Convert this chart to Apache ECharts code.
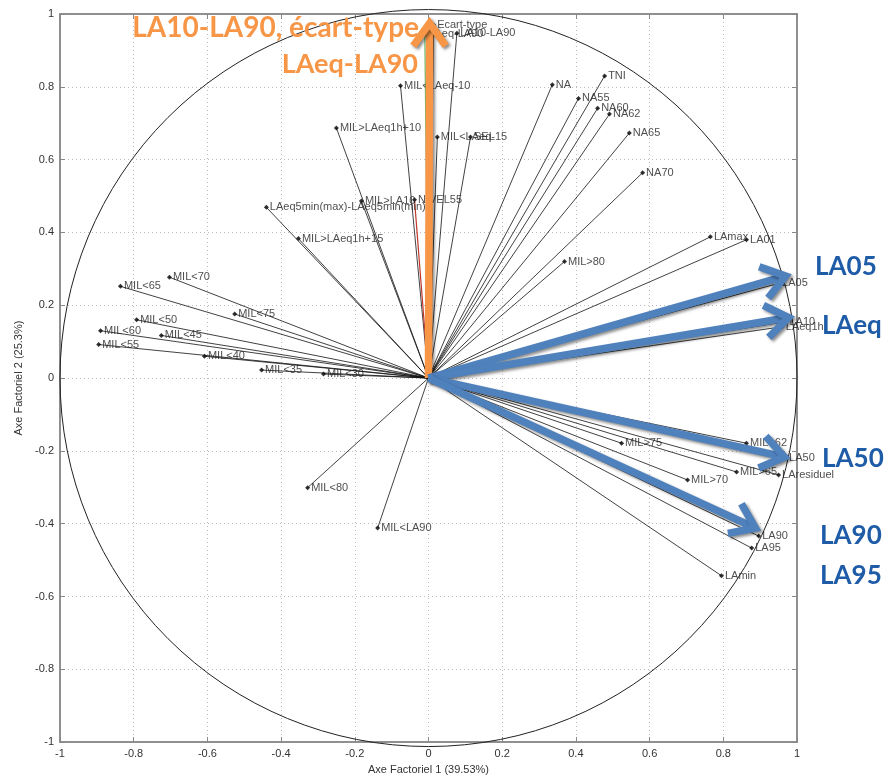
<!DOCTYPE html>
<html><head><meta charset="utf-8">
<script src="https://cdn.jsdelivr.net/npm/echarts@6/dist/echarts.min.js"></script>
<style>html,body{margin:0;padding:0;background:#fff}#c{width:889px;height:780px}</style>
</head><body><div id="c"></div>
<script>
// Variables (correlation circle coordinates)
const varNames = ['Ecart-type','LAeq-LA90','LA10-LA90','MIL<LAeq-10','MIL>LAeq1h+10','MIL<LAeq-15','SEL',
 'LAeq5min(max)-LAeq5min(min)','MIL>LA10','NIVEL55','MIL>LAeq1h+15','NA','TNI','NA55','NA60','NA62','NA65','NA70',
 'LAmax','LA01','LA05','LA10','LAeq1h','MIL>80','MIL>75','MIL>62','LA50','MIL>65','LAresiduel','MIL>70',
 'LA90','LA95','LAmin','MIL<70','MIL<65','MIL<75','MIL<50','MIL<60','MIL<45','MIL<55','MIL<40','MIL<35','MIL<30',
 'MIL<80','MIL<LA90'];
const varX = [0.014,-0.01,0.077,-0.076,-0.25,0.024,0.114,
 -0.44,-0.182,-0.038,-0.353,0.336,0.478,0.407,0.459,0.491,0.545,0.581,
 0.765,0.863,0.95,0.97,0.96,0.369,0.524,0.863,0.969,0.836,0.95,0.703,
 0.896,0.877,0.795,-0.703,-0.836,-0.526,-0.792,-0.89,-0.725,-0.895,-0.608,-0.453,-0.285,
 -0.328,-0.138];
const varY = [0.97,0.945,0.947,0.803,0.687,0.662,0.662,
 0.469,0.486,0.49,0.383,0.806,0.83,0.768,0.741,0.725,0.673,0.564,
 0.388,0.38,0.26,0.155,0.141,0.32,-0.179,-0.179,-0.22,-0.258,-0.266,-0.28,
 -0.434,-0.467,-0.543,0.277,0.252,0.176,0.16,0.13,0.117,0.092,0.06,0.022,0.011,
 -0.301,-0.412];
const lineColors = {'LAeq-LA90':'#66bb6a', 'NIVEL55':'#c0392b'};
// Highlight arrows
const blueArrowX = [0.969,0.977,0.966,0.887];
const blueArrowY = [0.28,0.166,-0.217,-0.412];
const orangeArrowX = [0.003];
const orangeArrowY = [0.975];

const chart = echarts.init(document.getElementById('c'), null, {renderer:'canvas'});
const tickFont = {fontFamily:'"Liberation Sans Narrow","Arial Narrow","Liberation Sans",sans-serif', fontSize:11, color:'#333'};
function fmt(v){ if (v===0) return '0'; if (v===1) return '1'; if (v===-1) return '-1'; return String(v); }
function axisCommon(){
  return {type:'value', min:-1, max:1, interval:0.2,
    axisLine:{show:true, onZero:false, lineStyle:{color:'#888', width:1.5}},
    axisTick:{show:true, inside:true, length:5, lineStyle:{color:'#888'}},
    splitLine:{show:true, lineStyle:{color:'#bbb', type:[1,3], width:1}},
    axisLabel:Object.assign({formatter:fmt, margin:6}, tickFont)};
}
const xa = axisCommon(); xa.position='bottom'; xa.name='Axe Factoriel 1 (39.53%)'; xa.nameLocation='middle'; xa.nameGap=20;
xa.nameTextStyle = Object.assign({}, tickFont, {fontSize:11});
const xTop = axisCommon(); xTop.position='top'; xTop.axisLabel={show:false}; xTop.splitLine={show:false};
const ya = axisCommon(); ya.position='left'; ya.name='Axe Factoriel 2 (25.3%)'; ya.nameLocation='middle'; ya.nameGap=34;
ya.nameTextStyle = Object.assign({}, tickFont, {fontSize:11});
const yRight = axisCommon(); yRight.position='right'; yRight.axisLabel={show:false}; yRight.splitLine={show:false};

function arrowSeries(xs, ys, color){
  return {type:'custom', z:10, clip:false, silent:true,
    data: xs.map((x,i)=>[x, ys[i]]),
    renderItem: function(params, api){
      const o = api.coord([0,0]);
      const p = api.coord([api.value(0), api.value(1)]);
      const dx = p[0]-o[0], dy = p[1]-o[1];
      const L = Math.sqrt(dx*dx+dy*dy);
      const ux = dx/L, uy = dy/L;
      const hl = 28, ang = 0.62;
      const c = Math.cos(ang), s = Math.sin(ang);
      const b1 = [p[0] - hl*(ux*c - uy*s), p[1] - hl*(uy*c + ux*s)];
      const b2 = [p[0] - hl*(ux*c + uy*s), p[1] - hl*(uy*c - ux*s)];
      const st = {stroke:color, lineWidth:7.5, fill:null, lineCap:'butt', lineJoin:'miter',
        shadowBlur:3, shadowColor:'rgba(0,0,0,0.45)', shadowOffsetX:2, shadowOffsetY:2};
      return {type:'group', children:[
        {type:'line', shape:{x1:o[0], y1:o[1], x2:p[0]-ux*4, y2:p[1]-uy*4}, style:st},
        {type:'polyline', shape:{points:[b1, p, b2]}, style:st}
      ]};
    }};
}

const option = {
  animation:false,
  backgroundColor:'#fff',
  grid:{left:60, top:14, width:737, height:737, show:true, borderColor:'#888', borderWidth:1.5},
  xAxis:[xa, xTop],
  yAxis:[ya, yRight],
  series:[
    {type:'custom', silent:true, data:[[0,0]], z:2,
      renderItem:function(params, api){
        const c = api.coord([0,0]); const r = api.size([1,1]);
        return {type:'circle', shape:{cx:c[0], cy:c[1], r:r[0]}, style:{stroke:'#222', fill:null, lineWidth:1}};
      }},
    {type:'lines', coordinateSystem:'cartesian2d', silent:true, z:3,
      data: varX.map((x,i)=>({coords:[[0,0],[x, varY[i]]],
        lineStyle:{color: lineColors[varNames[i]] || '#111', width: lineColors[varNames[i]] ? 1.2 : 0.8}})),
      lineStyle:{color:'#111', width:0.8, opacity:1}},
    {type:'scatter', z:4, silent:true, symbol:'diamond', symbolSize:5,
      itemStyle:{color:'#000'},
      data: varX.map((x,i)=>({name:varNames[i], value:[x, varY[i]]})),
      label:{show:true, position:'right', distance:1, formatter:'{b}',
        fontFamily:'"Liberation Sans Narrow","Arial Narrow","Liberation Sans",sans-serif', fontSize:11, color:'#222'}},
    arrowSeries(orangeArrowX, orangeArrowY, '#F79646'),
    arrowSeries(blueArrowX, blueArrowY, '#4F81BD')
  ],
  graphic:[
    {type:'text', z:100, left:815, top:254, style:{text:'LA05', font:'bold 26px Lato, "Open Sans", sans-serif', fill:'#1F5CA8'}},
    {type:'text', z:100, left:822, top:313, style:{text:'LAeq', font:'bold 26px Lato, "Open Sans", sans-serif', fill:'#1F5CA8'}},
    {type:'text', z:100, left:822, top:446, style:{text:'LA50', font:'bold 26px Lato, "Open Sans", sans-serif', fill:'#1F5CA8'}},
    {type:'text', z:100, left:820, top:523, style:{text:'LA90', font:'bold 26px Lato, "Open Sans", sans-serif', fill:'#1F5CA8'}},
    {type:'text', z:100, left:820, top:563, style:{text:'LA95', font:'bold 26px Lato, "Open Sans", sans-serif', fill:'#1F5CA8'}},
    {type:'text', z:100, right:470, top:14, style:{text:'LA10-LA90, écart-type', font:'bold 28px Lato, "Open Sans", sans-serif', fill:'#F79646'}},
    {type:'text', z:100, right:471, top:51, style:{text:'LAeq-LA90', font:'bold 27px Lato, "Open Sans", sans-serif', fill:'#F79646'}}
  ]
};
chart.setOption(option);
</script>
</body></html>
